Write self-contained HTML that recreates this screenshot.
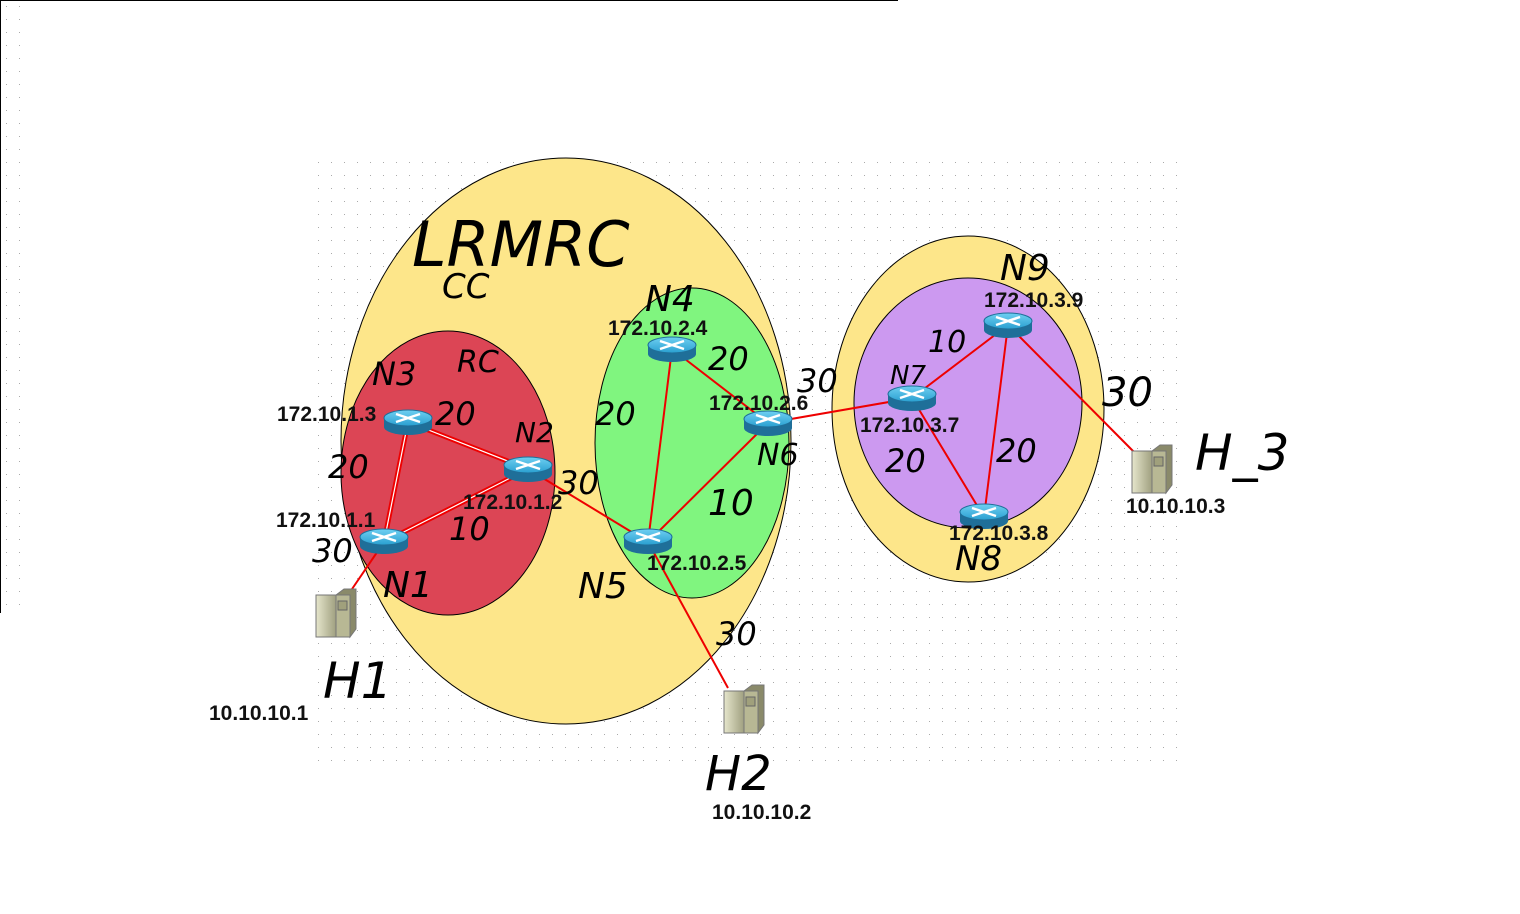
<!DOCTYPE html>
<html><head><meta charset="utf-8"><style>
html,body{margin:0;padding:0;background:#fff;width:1520px;height:914px;overflow:hidden}
svg{display:block}
.ip{font-family:"Liberation Sans",sans-serif;font-weight:bold;font-size:21px;fill:#111}
.hw{font-family:"DejaVu Sans","Liberation Sans",sans-serif;font-style:italic;fill:#000}
</style></head><body>
<svg width="1520" height="914" viewBox="0 0 1520 914">
<defs>
<pattern id="dots" width="13" height="13" patternUnits="userSpaceOnUse"><rect x="6" y="6" width="1" height="1" fill="#aaa"/></pattern>
<linearGradient id="rtop" x1="0" y1="0" x2="0" y2="1"><stop offset="0" stop-color="#6fd0f2"/><stop offset="1" stop-color="#2a9fd0"/></linearGradient>
<linearGradient id="srv" x1="0" y1="0" x2="1" y2="0"><stop offset="0" stop-color="#e6e6cc"/><stop offset="1" stop-color="#a0a080"/></linearGradient>
<g id="router">
<path d="M-24,0 L-24,9 A24,8 0 0 0 24,9 L24,0 Z" fill="#1f6f99"/>
<ellipse cx="0" cy="0" rx="24" ry="8" fill="url(#rtop)" stroke="#1f6f99" stroke-width="1"/>
<path d="M-12,-4 L12,4 M-12,4 L12,-4" stroke="#fff" stroke-width="2.5"/>
</g>
<g id="server">
<rect x="0" y="6" width="20" height="42" fill="url(#srv)" stroke="#777" stroke-width="1"/>
<rect x="20" y="6" width="14" height="42" fill="#b8b894" stroke="#777" stroke-width="1"/>
<path d="M20,6 L28,0 L40,0 L40,40 L34,48 L34,6 Z" fill="#8a8a6a" stroke="#777"/>
<rect x="22" y="12" width="9" height="9" fill="#a0a07c" stroke="#666"/>
</g>
</defs>
<rect x="310" y="155" width="876" height="615" fill="url(#dots)"/>
<rect x="0" y="0" width="22" height="613" fill="url(#dots)"/>
<line x1="0" y1="0.5" x2="898" y2="0.5" stroke="#000"/>
<line x1="0.5" y1="0" x2="0.5" y2="613" stroke="#000"/>

<ellipse cx="566" cy="441" rx="225" ry="283" fill="#fde68a" stroke="#000"/>
<ellipse cx="448" cy="473" rx="107" ry="142" fill="#dc4555" stroke="#000"/>
<ellipse cx="692" cy="443" rx="97" ry="155" fill="#80f57f" stroke="#000"/>
<ellipse cx="968" cy="409" rx="136" ry="173" fill="#fde68a" stroke="#000"/>
<ellipse cx="968" cy="403" rx="114" ry="125" fill="#cc99f0" stroke="#000"/>

<g stroke="#ee0000" stroke-width="2">
<line x1="408" y1="422" x2="528" y2="469" stroke-width="5"/>
<line x1="408" y1="422" x2="384" y2="542" stroke-width="5"/>
<line x1="384" y1="542" x2="528" y2="469" stroke-width="5"/>
<line x1="528" y1="469" x2="648" y2="542"/>
<line x1="384" y1="542" x2="350" y2="592"/>
<line x1="672" y1="349" x2="648" y2="542"/>
<line x1="672" y1="349" x2="768" y2="423"/>
<line x1="768" y1="423" x2="648" y2="542"/>
<line x1="648" y1="542" x2="728" y2="688"/>
<line x1="768" y1="423" x2="912" y2="398"/>
<line x1="912" y1="398" x2="1008" y2="325"/>
<line x1="912" y1="398" x2="984" y2="517"/>
<line x1="1008" y1="325" x2="984" y2="517"/>
<line x1="1008" y1="325" x2="1134" y2="452"/>
</g>
<g stroke="#fff" stroke-width="1.2">
<line x1="408" y1="422" x2="528" y2="469"/>
<line x1="408" y1="422" x2="384" y2="542"/>
<line x1="384" y1="542" x2="528" y2="469"/>
</g>

<use href="#router" x="408" y="418"/>
<use href="#router" x="528" y="465"/>
<use href="#router" x="384" y="537"/>
<use href="#router" x="672" y="345"/>
<use href="#router" x="768" y="419"/>
<use href="#router" x="648" y="537"/>
<use href="#router" x="912" y="394"/>
<use href="#router" x="1008" y="321"/>
<use href="#router" x="984" y="512"/>

<use href="#server" x="316" y="589"/>
<use href="#server" x="724" y="685"/>
<use href="#server" x="1132" y="445"/>

<g class="ip">
<text x="277" y="421">172.10.1.3</text>
<text x="463" y="509">172.10.1.2</text>
<text x="276" y="527">172.10.1.1</text>
<text x="608" y="335">172.10.2.4</text>
<text x="709" y="410">172.10.2.6</text>
<text x="647" y="570">172.10.2.5</text>
<text x="860" y="432">172.10.3.7</text>
<text x="984" y="307">172.10.3.9</text>
<text x="949" y="540">172.10.3.8</text>
<text x="209" y="720">10.10.10.1</text>
<text x="712" y="819">10.10.10.2</text>
<text x="1126" y="513">10.10.10.3</text>
</g>

<g class="hw">
<text x="412" y="266" font-size="62">LRMRC</text>
<text x="442" y="298" font-size="34">CC</text>
<text x="372" y="385" font-size="32">N3</text>
<text x="457" y="372" font-size="30">RC</text>
<text x="515" y="442" font-size="28">N2</text>
<text x="383" y="597" font-size="36">N1</text>
<text x="578" y="598" font-size="36">N5</text>
<text x="645" y="311" font-size="36">N4</text>
<text x="757" y="465" font-size="30">N6</text>
<text x="890" y="384" font-size="26">N7</text>
<text x="1000" y="280" font-size="36">N9</text>
<text x="955" y="570" font-size="34">N8</text>
<text x="435" y="425" font-size="32">20</text>
<text x="328" y="478" font-size="32">20</text>
<text x="449" y="540" font-size="32">10</text>
<text x="558" y="494" font-size="32">30</text>
<text x="312" y="562" font-size="32">30</text>
<text x="595" y="425" font-size="32">20</text>
<text x="708" y="370" font-size="32">20</text>
<text x="708" y="515" font-size="36">10</text>
<text x="716" y="645" font-size="32">30</text>
<text x="797" y="392" font-size="32">30</text>
<text x="928" y="352" font-size="30">10</text>
<text x="885" y="472" font-size="32">20</text>
<text x="996" y="462" font-size="32">20</text>
<text x="1102" y="406" font-size="40">30</text>
<text x="323" y="698" font-size="50">H1</text>
<text x="705" y="790" font-size="48">H2</text>
<text x="1195" y="470" font-size="50">H_3</text>
</g>
</svg>
</body></html>
